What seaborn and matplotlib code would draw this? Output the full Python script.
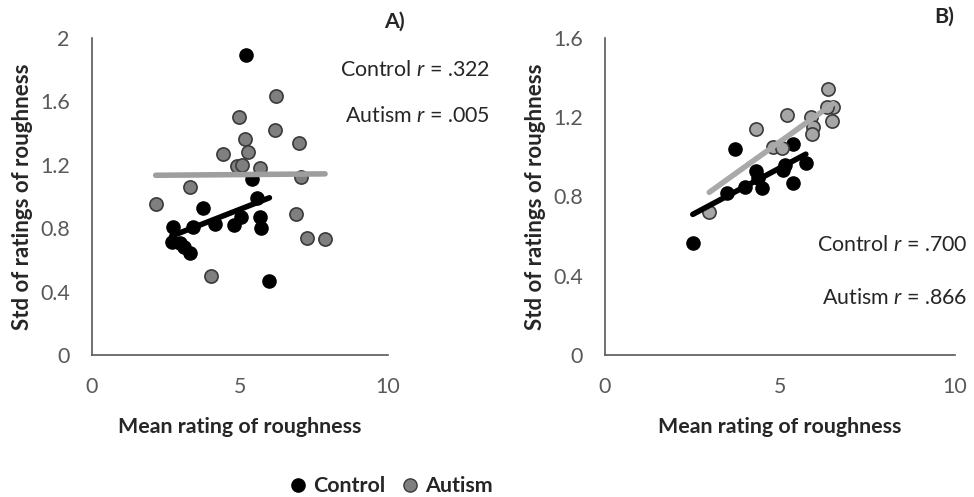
import matplotlib.pyplot as plt
import seaborn as sns
from matplotlib.lines import Line2D

# panel A: mean rating vs std of ratings
a_ctrl_x = [5.20, 3.76, 2.75, 2.69, 3.09, 2.97, 3.31, 3.42, 4.16, 4.80, 5.02, 5.68, 5.71, 5.56, 5.39, 5.99]
a_ctrl_y = [1.89, 0.93, 0.81, 0.715, 0.683, 0.705, 0.645, 0.81, 0.826, 0.82, 0.87, 0.87, 0.80, 0.99, 1.11, 0.467]
a_aut_x = [6.22, 4.97, 6.18, 5.17, 5.28, 4.41, 6.99, 4.89, 5.06, 5.68, 7.05, 3.31, 2.15, 6.89, 7.27, 7.87, 4.01]
a_aut_y = [1.635, 1.50, 1.42, 1.36, 1.28, 1.27, 1.34, 1.19, 1.20, 1.18, 1.12, 1.06, 0.95, 0.89, 0.735, 0.73, 0.50]

# panel B
b_ctrl_x = [2.51, 3.72, 3.48, 4.00, 4.31, 4.49, 4.38, 5.10, 5.14, 5.38, 5.38, 5.74]
b_ctrl_y = [0.567, 1.04, 0.817, 0.847, 0.926, 0.845, 0.892, 0.934, 0.96, 1.064, 0.867, 0.968]
b_aut_x = [6.38, 6.52, 6.35, 6.48, 5.89, 5.95, 5.92, 5.21, 4.33, 4.81, 5.05, 2.98]
b_aut_y = [1.342, 1.251, 1.25, 1.18, 1.20, 1.153, 1.115, 1.212, 1.139, 1.049, 1.044, 0.722]

a_labels = ["Control $\\mathit{r}$ = .322", "Autism $\\mathit{r}$ = .005"]
b_labels = ["Control $\\mathit{r}$ = .700", "Autism $\\mathit{r}$ = .866"]

sns.set_style("white")
plt.rcParams['font.family'] = ['Lato', 'DejaVu Sans']
plt.rcParams['mathtext.fontset'] = 'custom'
plt.rcParams['mathtext.it'] = 'Lato:italic'
plt.rcParams['mathtext.rm'] = 'Lato'

tick_col = '#595959'
edge = '#3a3a3a'
fs = 15.4

fig = plt.figure(figsize=(9.74, 4.97), dpi=100)
ax1 = fig.add_axes([0.0945, 0.2857, 0.304, 0.638])
ax2 = fig.add_axes([0.6211, 0.2857, 0.3593, 0.638])


def panel(ax, cx, cy, ax_, ay, aut_fill, aut_line):
    sns.scatterplot(x=cx, y=cy, ax=ax, color='black', edgecolor='black', s=90, linewidth=1, zorder=3)
    sns.scatterplot(x=ax_, y=ay, ax=ax, color=aut_fill, edgecolor=edge, s=90, linewidth=1.2, zorder=3)
    sns.regplot(x=cx, y=cy, ax=ax, scatter=False, ci=None, truncate=True,
                line_kws=dict(color='black', lw=4, solid_capstyle='round', zorder=4))
    sns.regplot(x=ax_, y=ay, ax=ax, scatter=False, ci=None, truncate=True,
                line_kws=dict(color=aut_line, lw=4, solid_capstyle='round', zorder=4))
    ax.set_xlim(0, 10)
    ax.set_xticks([0, 5, 10])
    for s in ['top', 'right']:
        ax.spines[s].set_visible(False)
    for s in ['left', 'bottom']:
        ax.spines[s].set_color('#595959')
        ax.spines[s].set_linewidth(1.2)
    ax.tick_params(length=0, labelsize=fs, labelcolor=tick_col)
    ax.tick_params(axis='x', pad=16)
    ax.tick_params(axis='y', pad=16)
    ax.set_xlabel('Mean rating of roughness', fontsize=fs, fontweight='bold', labelpad=14)
    ax.set_ylabel('Std of ratings of roughness', fontsize=fs + 0.6, fontweight='bold', labelpad=5)


panel(ax1, a_ctrl_x, a_ctrl_y, a_aut_x, a_aut_y, '#7f7f7f', '#9e9e9e')
ax1.set_ylim(0, 2)
ax1.set_yticks([0, 0.4, 0.8, 1.2, 1.6, 2])
ax1.set_yticklabels(['0', '0.4', '0.8', '1.2', '1.6', '2'])
ax1.text(13.45, 1.80, a_labels[0], ha='right', va='center', fontsize=fs, color='#262626')
ax1.text(13.45, 1.51, a_labels[1], ha='right', va='center', fontsize=fs, color='#262626')
ax1.text(10.2, 2.1, 'A)', ha='center', va='center', fontsize=fs, fontweight='bold')

panel(ax2, b_ctrl_x, b_ctrl_y, b_aut_x, b_aut_y, '#a6a6a6', '#a9a9a9')
ax2.set_ylim(0, 1.6)
ax2.set_yticks([0, 0.4, 0.8, 1.2, 1.6])
ax2.set_yticklabels(['0', '0.4', '0.8', '1.2', '1.6'])
ax2.text(10.37, 0.556, b_labels[0], ha='right', va='center', fontsize=fs, color='#262626')
ax2.text(10.37, 0.288, b_labels[1], ha='right', va='center', fontsize=fs, color='#262626')
ax2.text(9.7, 1.706, 'B)', ha='center', va='center', fontsize=fs, fontweight='bold')

handles = [Line2D([], [], marker='o', ls='', color='black', markersize=9.5),
           Line2D([], [], marker='o', ls='', markerfacecolor='#7f7f7f', markeredgecolor=edge, markersize=9.5)]
fig.legend(handles, ['Control', 'Autism'], loc='center', bbox_to_anchor=(0.402, 0.022), ncol=2,
           frameon=False, handlelength=0.7, handletextpad=0.35, columnspacing=0.8,
           prop=dict(weight='bold', size=fs))

fig.savefig('out.png', dpi=100)
